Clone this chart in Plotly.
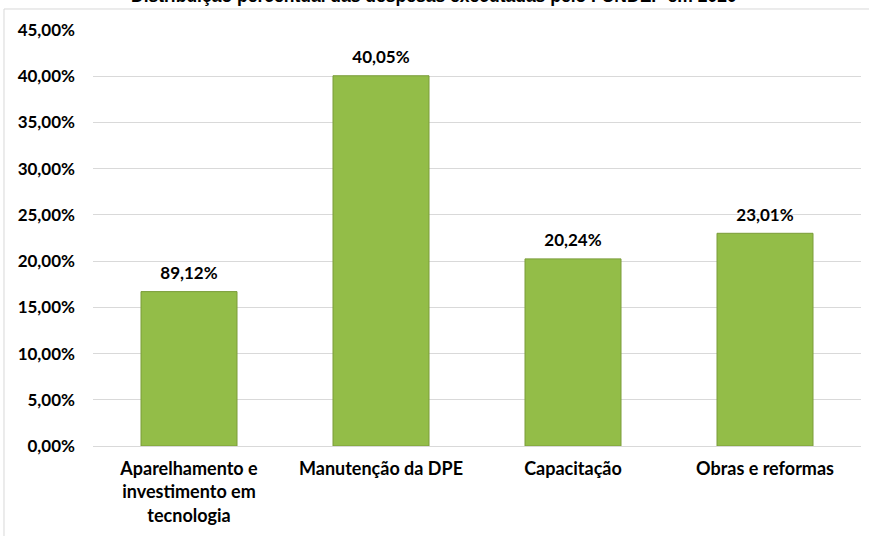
import plotly.graph_objects as go

categories = ["Aparelhamento e<br>investimento em<br>tecnologia", "Manutenção da DPE", "Capacitação", "Obras e reformas"]
values = [16.70, 40.05, 20.24, 23.01]
value_labels = ["89,12%", "40,05%", "20,24%", "23,01%"]
title_text = "Distribuição percentual das despesas executadas pelo FUNDEP em 2020"
tick_vals = [0, 5, 10, 15, 20, 25, 30, 35, 40, 45]
tick_text = ["0,00%", "5,00%", "10,00%", "15,00%", "20,00%", "25,00%", "30,00%", "35,00%", "40,00%", "45,00%"]

FONT = "Lato, 'Liberation Sans', Arial, sans-serif"

fig = go.Figure()
fig.add_trace(go.Bar(
    x=categories,
    y=values,
    marker=dict(color="#93bd48", line=dict(color="#7a9c38", width=1)),
    width=0.5,
    hoverinfo="skip",
))
fig.add_trace(go.Scatter(
    x=categories,
    y=values,
    mode="text+markers",
    text=value_labels,
    textposition="top center",
    marker=dict(size=12, opacity=0),
    textfont=dict(family=FONT, size=17, color="#000000", weight="bold"),
    cliponaxis=False,
    hoverinfo="skip",
))

fig.update_layout(
    width=869, height=536,
    margin=dict(l=93, r=8, t=30, b=90),
    paper_bgcolor="white",
    plot_bgcolor="white",
    showlegend=False,
    font=dict(family=FONT, size=16, color="#000000"),
    yaxis=dict(
        range=[0, 45],
        tickvals=tick_vals,
        ticktext=tick_text,
        showgrid=True,
        gridcolor="#d9d9d9",
        gridwidth=1,
        zeroline=True,
        zerolinecolor="#d9d9d9",
        zerolinewidth=1,
        showline=False,
        ticks="",
        automargin=False,
        ticklabelstandoff=17,
        tickfont=dict(family=FONT, size=17, color="#000000", weight="bold"),
    ),
    xaxis=dict(
        showline=False,
        ticks="",
        automargin=False,
        ticklabelstandoff=10,
        tickfont=dict(family=FONT, size=18, color="#000000", weight="bold"),
    ),
    shapes=[dict(
        type="rect", xref="paper", yref="paper",
        x0=-0.1159, x1=1.02, y0=-0.23, y1=1.0505,
        line=dict(color="#d9d9d9", width=1), fillcolor="rgba(0,0,0,0)", layer="below",
    )],
    annotations=[dict(
        text=title_text, xref="paper", yref="paper",
        x=0.444, y=1.082, xanchor="center", yanchor="middle",
        showarrow=False,
        font=dict(family="'Liberation Sans', Arial, sans-serif", size=17.5, color="#000000", weight="bold"),
    )],
)

fig.write_html("out.html", config={"displayModeBar": False},
               post_script="document.body.style.margin='0';")
